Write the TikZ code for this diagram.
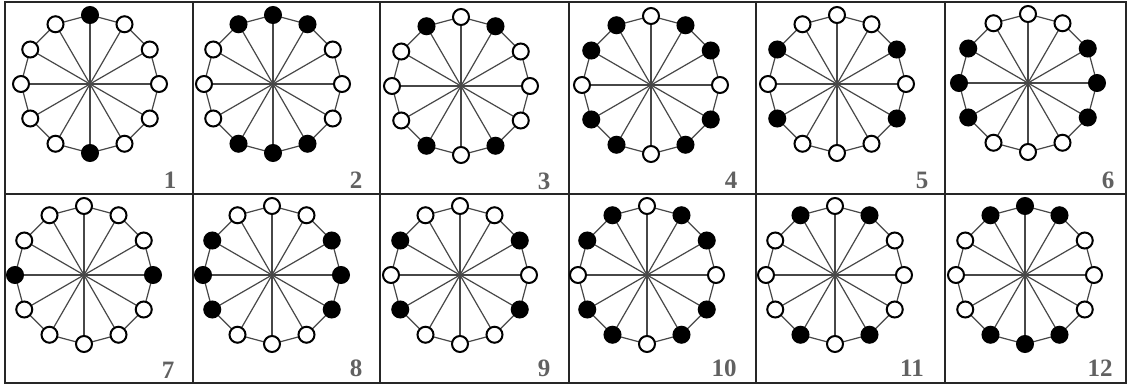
\documentclass[tikz,border=0pt]{standalone}
\usepackage{fontspec}
\setmainfont{Liberation Serif}
\def\pA{black,white,white,white,white,white,black,white,white,white,white,white}
\def\pB{black,black,white,white,white,black,black,black,white,white,white,black}
\def\pC{white,black,white,white,white,black,white,black,white,white,white,black}
\def\pD{white,black,black,white,black,black,white,black,black,white,black,black}
\def\pE{white,white,black,white,black,white,white,white,black,white,black,white}
\def\pF{white,white,black,black,black,white,white,white,black,black,black,white}
\def\pG{white,white,white,black,white,white,white,white,white,black,white,white}
\newcommand\wheel[7]{%
  \coordinate (#1c) at (#2,#3);
  \foreach \k in {0,...,11}{\path (#1c) ++(-90+30*\k:69) coordinate (#1v\k);}
  \draw[spoke] (#1v0) \foreach \k in {1,...,11}{ -- (#1v\k)} -- cycle;
  \foreach \k in {0,...,11}{\draw[spoke] (#1c) -- (#1v\k);}
  \foreach \f [count=\k from 0] in #4 {\node[dot,fill=\f] (#1n\k) at (#1v\k) {};}
  \node[lab] (#1l) at (#6,#7) {#5};
}
\begin{document}
\begin{tikzpicture}[x=1pt,y=-1pt,
  spoke/.style={line width=1.2pt,draw=black!72},
  dot/.style={circle,draw=black,line width=2pt,minimum size=16pt,inner sep=0pt},
  lab/.style={font=\fontsize{25}{25}\selectfont\bfseries,text=black!62,inner sep=0pt},
  frame/.style={line width=2.2pt,draw=black!85}]
\useasboundingbox (0,0) rectangle (1128,385);
\fill[white] (0,0) rectangle (1128,385);
\draw[frame] (5,2) rectangle (1126,383);
\draw[frame] (5,194) -- (1126,194);
\foreach \x in {193,380,569,756,945}{\draw[frame] (\x,2) -- (\x,383);}
\wheel{a}{90}{84}{\pA}{1}{170}{180}
\wheel{b}{273}{84}{\pB}{2}{356}{180}
\wheel{c}{461}{86}{\pC}{3}{544}{181}
\wheel{d}{651}{85}{\pD}{4}{731}{180}
\wheel{e}{837}{84}{\pE}{5}{922}{180}
\wheel{f}{1028}{83}{\pF}{6}{1108}{180}
\wheel{g}{84}{275}{\pG}{7}{168}{370}
\wheel{h}{272}{275}{\pF}{8}{356}{368}
\wheel{i}{460}{275}{\pE}{9}{544}{368}
\wheel{j}{647}{275}{\pD}{10}{724}{368}
\wheel{k}{835}{275}{\pC}{11}{912}{368}
\wheel{l}{1025}{275}{\pB}{12}{1100}{368}
\end{tikzpicture}
\end{document}
